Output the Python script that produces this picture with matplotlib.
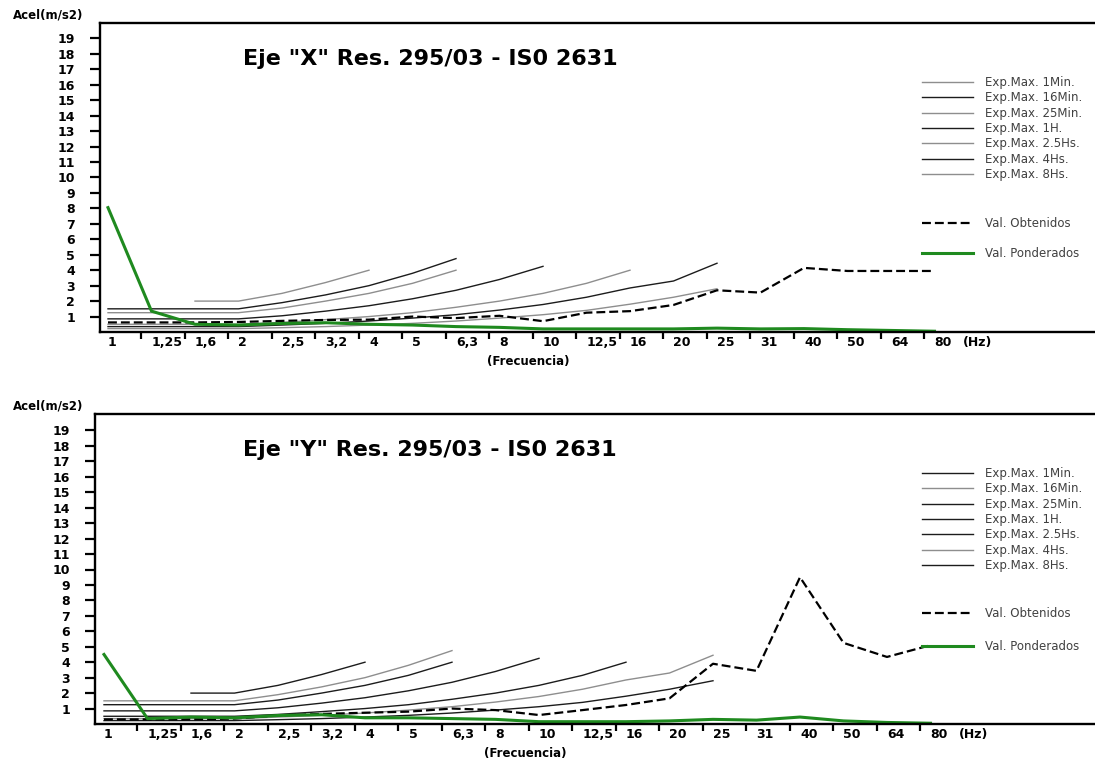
import matplotlib.pyplot as plt
import numpy as np

N = np.nan

# bandas de tercio de octava (Hz)
frecuencias = ['1', '1,25', '1,6', '2', '2,5', '3,2', '4', '5', '6,3', '8',
               '10', '12,5', '16', '20', '25', '31', '40', '50', '64', '80']

exp_labels = ['Exp.Max. 1Min.', 'Exp.Max. 16Min.', 'Exp.Max. 25Min.', 'Exp.Max. 1H.',
              'Exp.Max. 2.5Hs.', 'Exp.Max. 4Hs.', 'Exp.Max. 8Hs.']

# limites de exposicion (m/s2)
exp_1min = [N, N, 2.0, 2.0, 2.5, 3.2, 4.0, N, N, N, N, N, N, N, N, N, N, N, N, N]
exp_16min = [1.5, 1.5, 1.5, 1.5, 1.9, 2.4, 3.0, 3.8, 4.75, N, N, N, N, N, N, N, N, N, N, N]
exp_25min = [1.25, 1.25, 1.25, 1.25, 1.55, 2.0, 2.5, 3.15, 4.0, N, N, N, N, N, N, N, N, N, N, N]
exp_1h = [0.85, 0.85, 0.85, 0.85, 1.05, 1.35, 1.7, 2.15, 2.7, 3.4, 4.25, N, N, N, N, N, N, N, N, N]
exp_2h5 = [0.5, 0.5, 0.5, 0.5, 0.62, 0.8, 1.0, 1.25, 1.6, 2.0, 2.5, 3.15, 4.0, N, N, N, N, N, N, N]
exp_4h = [0.35, 0.35, 0.35, 0.35, 0.45, 0.56, 0.71, 0.9, 1.12, 1.42, 1.78, 2.25, 2.85, 3.3, 4.45,
          N, N, N, N, N]
exp_8h = [0.22, 0.22, 0.22, 0.22, 0.28, 0.35, 0.45, 0.56, 0.71, 0.9, 1.12, 1.4, 1.8, 2.25, 2.8,
          N, N, N, N, N]
exp_series = [exp_1min, exp_16min, exp_25min, exp_1h, exp_2h5, exp_4h, exp_8h]

# eje X
obt_x = [0.62, 0.62, 0.62, 0.65, 0.72, 0.78, 0.8, 1.0, 0.9, 1.05, 0.7, 1.25, 1.35, 1.75, 2.7,
         2.55, 4.15, 3.95, 3.95, 3.95]
pond_x = [8.05, 1.35, 0.5, 0.45, 0.55, 0.6, 0.5, 0.45, 0.35, 0.3, 0.2, 0.2, 0.2, 0.2, 0.25,
          0.2, 0.22, 0.15, 0.1, 0.05]
# eje Y
obt_y = [0.3, 0.3, 0.3, 0.35, 0.55, 0.65, 0.73, 0.8, 1.0, 0.9, 0.58, 0.9, 1.23, 1.66, 3.9,
         3.44, 9.5, 5.25, 4.34, 5.1]
pond_y = [4.5, 0.35, 0.45, 0.4, 0.55, 0.6, 0.4, 0.4, 0.35, 0.3, 0.15, 0.15, 0.15, 0.2, 0.3,
          0.25, 0.45, 0.2, 0.1, 0.05]

NEGRO = '#1c1c1c'
GRIS = '#8e8e8e'
VERDE = '#1f8a1f'
colores_x = [GRIS, NEGRO, GRIS, NEGRO, GRIS, NEGRO, GRIS]
colores_y = [NEGRO, GRIS, NEGRO, NEGRO, NEGRO, GRIS, NEGRO]

W, H = 1095, 763
fig = plt.figure(figsize=(W / 100, H / 100), dpi=100)


def grafico(izq, arriba, abajo, x0, titulo, obt, pond, colores, leg1_top, leg2_top, leg2_sp):
    ax = fig.add_axes([izq / W, 1 - abajo / H, (W - izq) / W, (abajo - arriba) / H])
    pos = np.arange(len(frecuencias))
    lineas = []
    for serie, col, lab in zip(exp_series, colores, exp_labels):
        l, = ax.plot(pos, serie, color=col, lw=1.0, label=lab)
        lineas.append(l)
    lo, = ax.plot(pos, obt, color='black', lw=1.6, ls=(0, (4, 1.8)), label='Val. Obtenidos')
    lp, = ax.plot(pos, pond, color=VERDE, lw=2.2, label='Val. Ponderados')

    esc = 43.5
    ax.set_xlim(-x0 / esc, (W - izq - x0) / esc)
    ax.set_ylim(0, (abajo - arriba) / 15.45)

    ax.spines['right'].set_visible(False)
    for s in ['left', 'top', 'bottom']:
        ax.spines[s].set_linewidth(1.7)

    ax.set_yticks(range(1, 20))
    ax.tick_params(axis='y', length=7, width=1.6, pad=11, labelsize=9)
    for t in ax.get_yticklabels():
        t.set_fontweight('bold')

    ax.set_xticks(pos)
    ax.set_xticklabels(frecuencias, fontsize=9, fontweight='bold', ha='left')
    ax.tick_params(axis='x', which='major', length=0, pad=3)
    ax.set_xticks(pos[:-1] + 0.77, minor=True)
    ax.tick_params(axis='x', which='minor', length=5, width=1.6, direction='out')
    ax.text(19.65, -0.013, '(Hz)', transform=ax.get_xaxis_transform(), ha='left', va='top',
            fontsize=9, fontweight='bold')
    ax.set_xlabel('(Frecuencia)', fontsize=8.5, fontweight='bold')
    ax.xaxis.set_label_coords(0.43, -0.075)

    fig.text(243 / W, 1 - (arriba + 36) / H, titulo, fontsize=16, fontweight='bold',
             va='center', ha='left')
    fig.text(0.012, 1 - (arriba - 8) / H, 'Acel(m/s2)', fontsize=8.5, fontweight='bold',
             va='center', ha='left')

    fig.legend(handles=lineas, loc='upper left', bbox_to_anchor=(922 / W, 1 - leg1_top / H),
               frameon=False, fontsize=8.5, labelcolor='#404040', handlelength=4.3,
               handletextpad=1.0, labelspacing=0.2, borderpad=0, borderaxespad=0)
    fig.legend(handles=[lo, lp], loc='upper left', bbox_to_anchor=(922 / W, 1 - leg2_top / H),
               frameon=False, fontsize=8.5, labelcolor='#404040', handlelength=4.3,
               handletextpad=1.0, labelspacing=leg2_sp, borderpad=0, borderaxespad=0)
    return ax


ax1 = grafico(100, 22.7, 332, 8, 'Eje "X" Res. 295/03 - IS0 2631', obt_x, pond_x, colores_x,
              76, 217, 1.45)
ax2 = grafico(95, 414, 724, 9, 'Eje "Y" Res. 295/03 - IS0 2631', obt_y, pond_y, colores_y,
              467, 607, 1.7)

fig.savefig('out.png', dpi=100)
